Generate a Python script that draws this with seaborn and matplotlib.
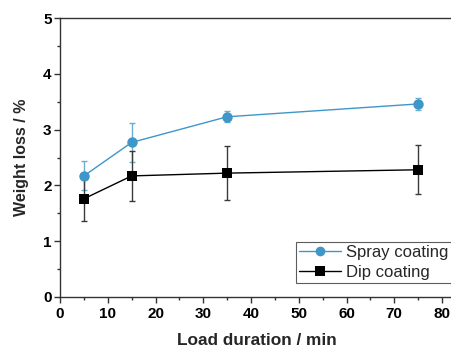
import matplotlib
matplotlib.use("Agg")
import matplotlib.pyplot as plt
import seaborn as sns
import pandas as pd
from matplotlib.ticker import MultipleLocator

duration = [5, 15, 35, 75]
spray = [2.17, 2.77, 3.23, 3.46]
spray_err = [0.26, 0.35, 0.10, 0.10]
dip = [1.76, 2.17, 2.22, 2.28]
dip_err = [0.39, 0.45, 0.49, 0.44]

sns.set_style("ticks")
plt.rcParams['font.family'] = ['Liberation Sans', 'DejaVu Sans']

fig = plt.figure(figsize=(4.52, 3.5), dpi=100)
ax = fig.add_axes([60/452, 53/350, 394/452, 279/350])

blue = "#3E96C9"
df = pd.DataFrame({
    "x": duration * 2,
    "y": spray + dip,
    "s": ["Spray coating"] * 4 + ["Dip coating"] * 4,
})
ax.errorbar(duration, spray, yerr=spray_err, fmt="none", ecolor="#6aaed6", capsize=2.5, elinewidth=1, capthick=1, zorder=1)
ax.errorbar(duration, dip, yerr=dip_err, fmt="none", ecolor="#3a3a3a", capsize=2.5, elinewidth=1, capthick=1, zorder=1)
sns.lineplot(data=df, x="x", y="y", hue="s", style="s",
             palette={"Spray coating": blue, "Dip coating": "black"},
             markers={"Spray coating": "o", "Dip coating": "s"},
             dashes=False, markersize=7.5, markeredgewidth=0, linewidth=1,
             ax=ax, zorder=3)
for ln in ax.get_lines():
    if ln.get_marker() == "s":
        ln.set_markersize(6.5)

ax.set_xlim(0, 82.5)
ax.set_ylim(0, 5)
ax.xaxis.set_major_locator(MultipleLocator(10))
ax.xaxis.set_minor_locator(MultipleLocator(5))
ax.yaxis.set_major_locator(MultipleLocator(1))
ax.yaxis.set_minor_locator(MultipleLocator(0.5))
ax.tick_params(which="both", direction="out", width=1, colors="#333333", labelcolor="black")
ax.tick_params(which="major", length=4, labelsize=11, pad=2)
ax.tick_params(axis="x", which="major", pad=3)
ax.tick_params(which="minor", length=2.5)
for lab in ax.get_xticklabels() + ax.get_yticklabels():
    lab.set_fontweight("bold")
for sp in ax.spines.values():
    sp.set_color("#333333")
    sp.set_linewidth(1)

ax.set_xlabel("Load duration / min", fontsize=12.4, fontweight="bold", labelpad=9)
ax.set_ylabel("Weight loss / %", fontsize=11.5, fontweight="bold", labelpad=10)

leg = ax.legend(loc="upper left", bbox_to_anchor=(296/452, 1 - 242/350),
                bbox_transform=fig.transFigure, fontsize=12, frameon=True,
                fancybox=False, edgecolor="#333333", handlelength=2.5, borderpad=0.2,
                labelspacing=0.25, handletextpad=0.3, borderaxespad=0)
leg.get_frame().set_linewidth(0.8)
for h in leg.legend_handles:
    h.set_markersize(7)

fig.savefig("out.png", dpi=100)
